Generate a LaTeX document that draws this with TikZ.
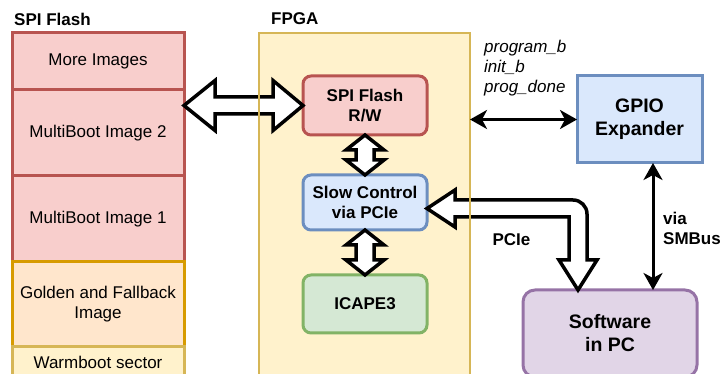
\documentclass[tikz,border=0pt]{standalone}
\usepackage{fontspec}
\setmainfont{Liberation Sans}
\usetikzlibrary{positioning,arrows.meta,calc}

\definecolor{redfill}{HTML}{F8CECC}
\definecolor{reddraw}{HTML}{B85450}
\definecolor{orangefill}{HTML}{FFE6CC}
\definecolor{orangedraw}{HTML}{D79B00}
\definecolor{yellowfill}{HTML}{FFF2CC}
\definecolor{yellowdraw}{HTML}{D6B656}
\definecolor{bluefill}{HTML}{DAE8FC}
\definecolor{bluedraw}{HTML}{6C8EBF}
\definecolor{greenfill}{HTML}{D5E8D4}
\definecolor{greendraw}{HTML}{82B366}
\definecolor{purplefill}{HTML}{E1D5E7}
\definecolor{purpledraw}{HTML}{9673A6}

\tikzset{
  every node/.style = {font=\fontsize{17}{20}\selectfont},
  basic/.style = {draw, rectangle, line width=3pt, align=center, inner sep=2pt, outer sep=0pt},
  heading/.style = {anchor=west, inner sep=0pt, font=\fontsize{17}{20}\selectfont\bfseries},
  flash/.style = {basic, minimum width=172pt, fill=redfill, draw=reddraw},
  golden/.style = {basic, minimum width=172pt, fill=orangefill, draw=orangedraw},
  warm/.style = {basic, minimum width=172pt, fill=yellowfill, draw=yellowdraw},
  fpgabox/.style = {basic, line width=2.5pt, fill=yellowfill, draw=yellowdraw},
  block/.style = {basic, rounded corners=8pt, minimum width=124pt, font=\fontsize{17}{20}\selectfont\bfseries},
  bigbox/.style = {basic, font=\fontsize{19.5}{23}\selectfont\bfseries},
  blockarrow/.style = {draw=black, fill=white, line width=3.5pt, line join=miter},
  thinarrow/.style = {line width=3pt, {Stealth[length=17pt,width=19pt,inset=5pt]}-{Stealth[length=17pt,width=19pt,inset=5pt]}},
}

\begin{document}
\begin{tikzpicture}[x=1pt, y=-1pt]
\clip (0,0) rectangle (721,374);

% SPI flash memory map
\node[heading] (flashtitle) at (14,19) {SPI Flash};
\node[flash, minimum height=57pt] (more) at (98,61.5) {More Images};
\node[flash, minimum height=86pt, below=0pt of more] (img2) {MultiBoot Image 2};
\node[flash, minimum height=86pt, below=0pt of img2] (img1) {MultiBoot Image 1};
\node[golden, minimum height=85pt, below=0pt of img1] (golden) {Golden and Fallback\\Image};
\node[warm, minimum height=30pt, below=0pt of golden] (warm) {Warmboot sector};

% FPGA
\node[heading] (fpgatitle) at (271,19) {FPGA};
\node[fpgabox, minimum width=211pt, minimum height=352pt] (fpga) at (364.5,209) {};
\node[block, fill=redfill, draw=reddraw, minimum height=59pt] (rw) at (365,105.5) {SPI Flash\\R/W};
\node[block, fill=bluefill, draw=bluedraw, minimum height=55pt, below=40pt of rw] (sc) {Slow Control\\via PCIe};
\node[block, fill=greenfill, draw=greendraw, minimum height=58pt, below=45pt of sc] (ic) {ICAPE3};

% outside
\node[bigbox, fill=bluefill, draw=bluedraw, minimum width=125pt, minimum height=87pt] (gpio) at (639.5,119.5) {GPIO\\Expander};
\node[bigbox, rounded corners=12pt, fill=purplefill, draw=purpledraw, minimum width=174pt, minimum height=87pt] (pc) at (610,333.5) {Software\\in PC};

\node[anchor=west, align=left, inner sep=0pt, font=\fontsize{17}{20}\selectfont\itshape] (signals) at (484,68) {program\_b\\init\_b\\prog\_done};
\node[anchor=west, align=left, inner sep=0pt, font=\fontsize{17}{20}\selectfont\bfseries] (smbus) at (663,228) {via\\SMBus};
\node[inner sep=0pt, font=\fontsize{17}{20}\selectfont\bfseries] (pcie) at (511.5,240) {PCIe};

% block arrows
\draw[blockarrow] (rw.west) -- ++(-30,-25) -- ++(0,16.5) -- ++(-58,0) -- ++(0,-16.5) -- ++(-31,25)
  -- ++(31,25) -- ++(0,-16.5) -- ++(58,0) -- ++(0,16.5) -- cycle;
\draw[blockarrow] (rw.south) -- ++(19,15) -- ++(-10,0) -- ++(0,10) -- ++(10,0) -- ++(-19,15)
  -- ++(-19,-15) -- ++(10,0) -- ++(0,-10) -- ++(-10,0) -- cycle;
\draw[blockarrow] (sc.south) -- ++(19,15) -- ++(-10,0) -- ++(0,15) -- ++(10,0) -- ++(-19,15)
  -- ++(-19,-15) -- ++(10,0) -- ++(0,-15) -- ++(-10,0) -- cycle;
\draw[blockarrow] ($(sc.east)+(0,6)$) -- ++(28,-18.5) -- ++(0,10) -- ++(118,0)
  arc[start angle=270, end angle=360, radius=14] -- ++(0,46) -- ++(10,0) -- ++(-19,30)
  -- ++(-19,-30) -- ++(10,0) -- ++(0,-43) -- ++(-114,0) -- ++(0,10) -- cycle;
\draw[yellowdraw, line width=2.5pt] (fpga.north west) rectangle (fpga.south east);

% thin arrows
\draw[thinarrow] (fpga.east |- gpio.west) -- (gpio.west);
\draw[thinarrow] ([xshift=13.5pt]gpio.south) -- ([xshift=13.5pt]gpio.south |- pc.north);

\end{tikzpicture}
\end{document}
